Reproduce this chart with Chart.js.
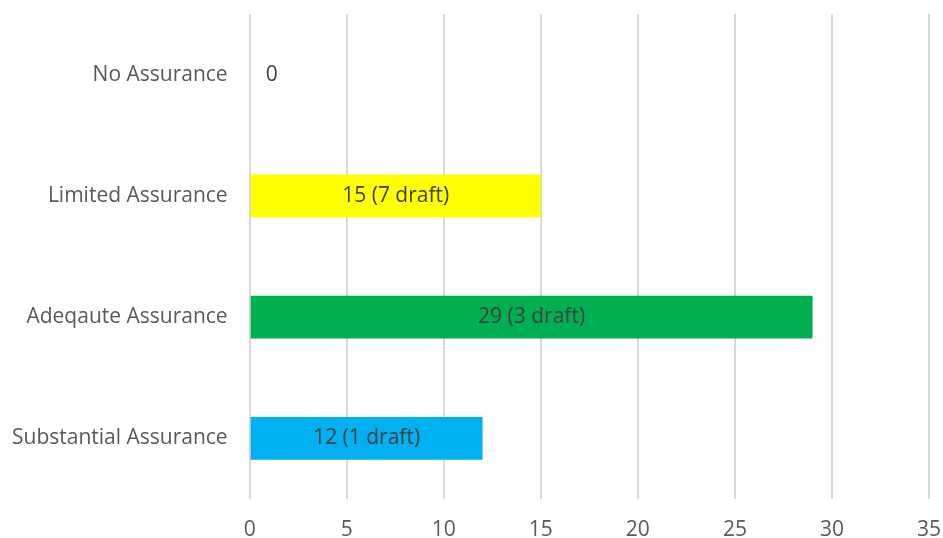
<!DOCTYPE html>
<html>
<head>
<meta charset="utf-8">
<script src="https://cdn.jsdelivr.net/npm/chart.js@4"></script>
<style>
  html, body { margin: 0; padding: 0; background: #ffffff; }
  #wrap { width: 943px; height: 538px; position: relative; }
</style>
</head>
<body>
<div id="wrap"><canvas id="c" width="943" height="538"></canvas></div>
<script>
const categories = ["No Assurance", "Limited Assurance", "Adeqaute Assurance", "Substantial Assurance"];
const values = [0, 15, 29, 12];
const labels = ["0", "15 (7 draft)", "29 (3 draft)", "12 (1 draft)"];
const colors = ["#5b9bd5", "#ffff00", "#00b050", "#00b0f0"];
const xTicks = { min: 0, max: 35, step: 5 };

const FONT = "'Open Sans', 'Liberation Sans', sans-serif";

const barLabels = {
  id: 'barLabels',
  afterDatasetsDraw(chart) {
    const ctx = chart.ctx;
    const meta = chart.getDatasetMeta(0);
    ctx.save();
    ctx.font = "21px " + FONT;
    ctx.fillStyle = "#404040";
    ctx.textBaseline = "middle";
    meta.data.forEach((bar, i) => {
      const v = values[i];
      if (v === 0) {
        ctx.textAlign = "left";
        ctx.fillText(labels[i], bar.base + 16, bar.y);
      } else {
        ctx.textAlign = "center";
        ctx.fillText(labels[i], (bar.base + bar.x) / 2, bar.y);
      }
    });
    ctx.restore();
  }
};

new Chart(document.getElementById('c'), {
  type: 'bar',
  data: {
    labels: categories,
    datasets: [{
      data: values,
      backgroundColor: colors,
      borderWidth: 0,
      categoryPercentage: 1.0,
      barPercentage: 0.354
    }]
  },
  options: {
    indexAxis: 'y',
    responsive: false,
    animation: false,
    devicePixelRatio: 1,
    layout: { padding: { top: 14, right: 14, bottom: 0, left: 12 } },
    plugins: {
      legend: { display: false },
      tooltip: { enabled: false },
      title: { display: false }
    },
    scales: {
      x: {
        min: xTicks.min,
        max: xTicks.max,
        ticks: {
          stepSize: xTicks.step,
          color: "#595959",
          font: { family: FONT, size: 21 },
          padding: 18
        },
        grid: { color: "#d9d9d9", lineWidth: 2, drawTicks: false },
        border: { display: false },
        afterFit(scale) { scale.height = 39; scale.paddingLeft = 0; scale.paddingRight = 0; }
      },
      y: {
        ticks: {
          color: "#595959",
          font: { family: FONT, size: 21 },
          padding: 22
        },
        grid: { display: false, drawTicks: false },
        border: { display: false },
        afterFit(scale) { scale.width = scale.width - 22; scale.paddingTop = 0; scale.paddingBottom = 0; }
      }
    }
  },
  plugins: [barLabels]
});
</script>
</body>
</html>
